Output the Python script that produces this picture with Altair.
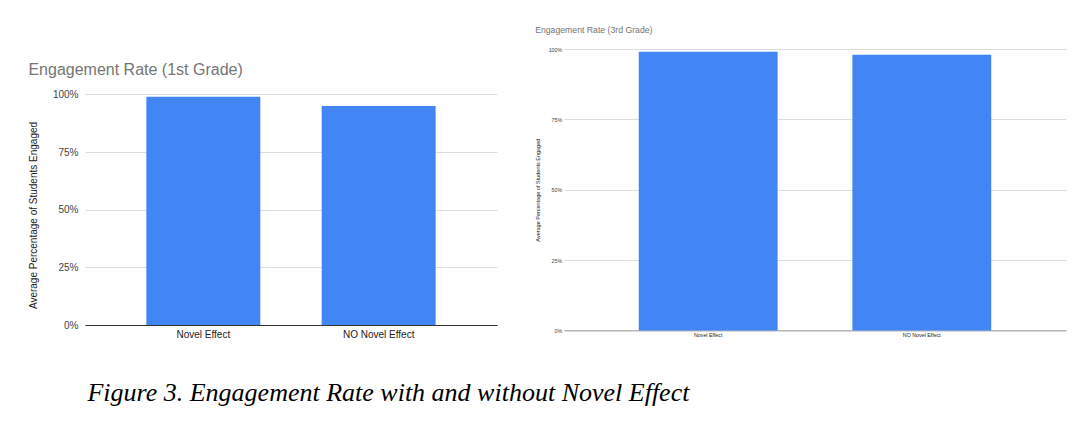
import altair as alt
import pandas as pd

categories = ["Novel Effect", "NO Novel Effect"]
first_grade = [0.99, 0.95]
third_grade = [0.99, 0.98]
tick_values = [0, 0.25, 0.5, 0.75, 1.0]

BLUE = "#4285F4"
SANS = "Liberation Sans"

df1 = pd.DataFrame({"category": categories, "value": first_grade})
df3 = pd.DataFrame({"category": categories, "value": third_grade})

left = alt.Chart(df1).mark_bar(color=BLUE).encode(
    x=alt.X("category:N", sort=categories,
            scale=alt.Scale(paddingInner=0.35, paddingOuter=0.35),
            axis=alt.Axis(title=None, labelAngle=0, labelFont=SANS, labelFontSize=10,
                          labelColor="#222222", ticks=False, domainColor="#333333",
                          labelPadding=4, grid=False)),
    y=alt.Y("value:Q", scale=alt.Scale(domain=[0, 1], range=[276, 45.4], nice=False),
            axis=alt.Axis(title="Average Percentage of Students Engaged", values=tick_values,
                          format="%", labelFont=SANS, labelFontSize=10, labelColor="#444444",
                          labelPadding=7, ticks=False, domain=False, gridColor="#dddddd",
                          titleFont=SANS, titleFontSize=10, titleFontWeight="normal",
                          titleColor="#222222", titlePadding=14, titleY=166)),
).properties(
    width=412, height=276,
    title=alt.TitleParams("Engagement Rate (1st Grade)", font=SANS, fontSize=16,
                          fontWeight="normal", color="#757575", anchor="start",
                          frame="bounds", baseline="alphabetic", offset=0, dy=42, dx=0),
)

right = alt.Chart(df3).mark_bar(color=BLUE).encode(
    x=alt.X("category:N", sort=categories,
            scale=alt.Scale(paddingInner=0.35, paddingOuter=0.35),
            axis=alt.Axis(title=None, labelAngle=0, labelFont=SANS, labelFontSize=5.3,
                          labelColor="#222222", ticks=False, domainColor="#9e9e9e",
                          labelPadding=2.3, grid=False)),
    y=alt.Y("value:Q", scale=alt.Scale(domain=[0, 1], nice=False),
            axis=alt.Axis(title="Average Percentage of Students Engaged", values=tick_values,
                          format="%", labelFont=SANS, labelFontSize=5.3, labelColor="#444444",
                          labelPadding=2.3, ticks=False, domain=False, gridColor="#dddddd",
                          titleFont=SANS, titleFontSize=5.5, titleFontWeight="normal",
                          titleColor="#222222", titlePadding=8)),
).properties(
    width=502, height=281.4,
    title=alt.TitleParams("Engagement Rate (3rd Grade)", font=SANS, fontSize=8.7,
                          fontWeight="normal", color="#757575", anchor="start",
                          frame="bounds", offset=12),
)

chart = alt.hconcat(left, right, spacing=38).properties(
    title=alt.TitleParams("Figure 3. Engagement Rate with and without Novel Effect",
                          orient="bottom", anchor="start", font="Liberation Serif",
                          fontSize=26, fontStyle="italic", fontWeight="normal",
                          color="#000000", offset=41, dx=59),
    padding={"left": 28, "top": 26, "right": 5, "bottom": 5},
).configure_view(strokeWidth=0)

chart.save("out.html", embed_options={"renderer": "svg", "actions": False})
